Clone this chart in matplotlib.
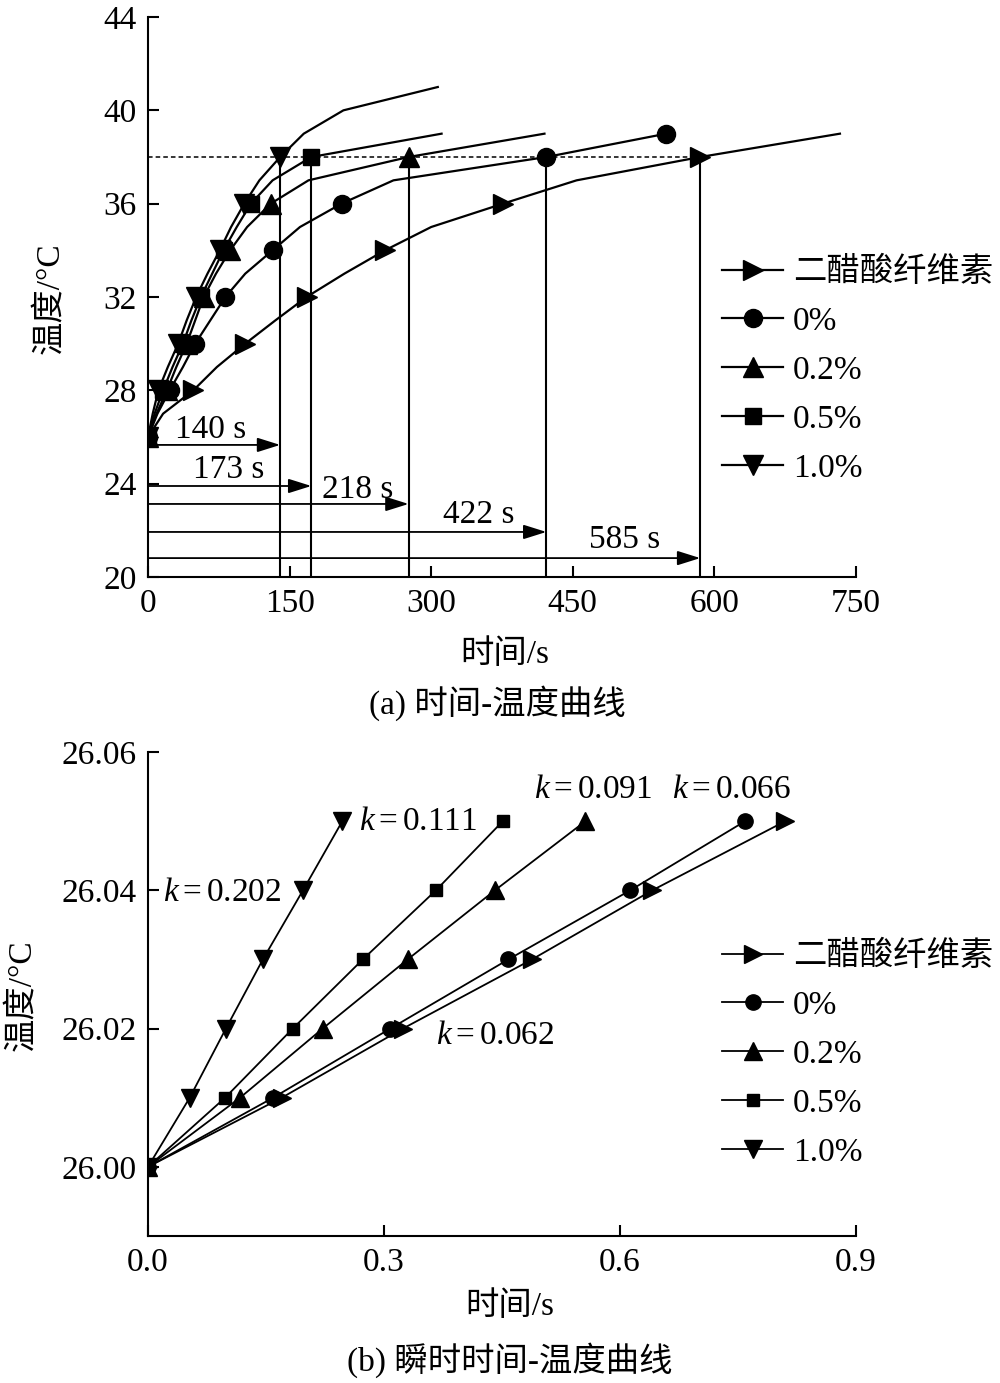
import matplotlib
matplotlib.use('Agg')
import matplotlib.pyplot as plt

plt.rcParams['font.family'] = ['Liberation Serif', 'Noto Sans CJK SC']
plt.rcParams['mathtext.fontset'] = 'custom'
plt.rcParams['mathtext.it'] = 'Liberation Serif:italic'
plt.rcParams['mathtext.rm'] = 'Liberation Serif'
plt.rcParams['font.size'] = 24

# ---- 数据 (a) 时间-温度曲线 ----
series_names = ['二醋酸纤维素', '0%', '0.2%', '0.5%', '1.0%']
markers = ['>', 'o', '^', 's', 'v']
msizes = [15, 13, 15, 11, 15]

temp_a = [26, 27, 28, 29, 30, 31, 32, 33, 34, 35, 36, 37, 38, 39, 40, 41]
time_diac = [0, 16, 48, 73, 103, 135, 168, 208, 251, 300, 376, 454, 585, 733]
time_0 = [0, 10, 23, 37, 50, 66, 82, 103, 132, 161, 205, 260, 422, 549]
time_02 = [0, 9, 20, 30, 41, 50, 59, 72, 87, 105, 130, 170, 276, 420]
time_05 = [0, 7, 16, 26, 37, 46, 56, 68, 80, 94, 109, 132, 173, 311]
time_10 = [0, 5, 11, 21, 32, 41, 51, 63, 76, 88, 102, 118, 140, 165, 207, 307]
times_a = [time_diac, time_0, time_02, time_05, time_10]

# 达到38℃的时间标注
arrow_labels = ['140 s', '173 s', '218 s', '422 s', '585 s']
arrow_src = [4, 3, 2, 1, 0]          # 对应的曲线
arrow_y = [25.66, 23.9, 23.13, 21.93, 20.81]
label_xy = [(66, 26.3), (85, 24.59), (222, 23.73), (350, 22.66), (505, 21.6)]

# ---- 数据 (b) 瞬时时间-温度曲线 ----
temp_b = [26.00, 26.01, 26.02, 26.03, 26.04, 26.05]
tb_diac = [0, 0.170, 0.324, 0.488, 0.641, 0.810]
tb_0 = [0, 0.159, 0.308, 0.458, 0.613, 0.759]
tb_02 = [0, 0.117, 0.222, 0.330, 0.441, 0.556]
tb_05 = [0, 0.098, 0.184, 0.273, 0.366, 0.451]
tb_10 = [0, 0.053, 0.099, 0.146, 0.197, 0.247]
times_b = [tb_diac, tb_0, tb_02, tb_05, tb_10]

k_labels = ['$k=$0.202', '$k=$0.111', '$k=$0.091', '$k=$0.066', '$k=$0.062']
k_xy = [(0.095, 26.0396), (0.343, 26.0499), (0.566, 26.0545), (0.742, 26.0545), (0.442, 26.019)]

fig = plt.figure(figsize=(10, 13.83), dpi=100)
ax1 = fig.add_axes([0.148, 0.5828, 0.708, 0.4049])
ax2 = fig.add_axes([0.148, 0.1063, 0.708, 0.3499])


def style_axes(ax):
    for s in ['top', 'right']:
        ax.spines[s].set_visible(False)
    for s in ['left', 'bottom']:
        ax.spines[s].set_linewidth(1.5)
    ax.tick_params(direction='in', length=8, width=1.5, labelsize=24, pad=8)


# (a)
for i, t in enumerate(times_a):
    n = len(t)
    me = list(range(0, min(n, 13), 2))
    if i == 1:
        me.append(n - 1)
    ax1.plot(t, temp_a[:n], color='black', lw=1.6, marker=markers[i],
             markersize=msizes[i], markevery=me, label=series_names[i])

ax1.hlines(38, 0, times_a[0][12], colors='black', linestyles=(0, (3, 2)), lw=1.1)
for j, src in enumerate(arrow_src):
    tx = times_a[src][12]
    ax1.vlines(tx, 20, 38, colors='black', lw=1.5)
    ax1.annotate('', xy=(tx, arrow_y[j]), xytext=(0, arrow_y[j]),
                 arrowprops=dict(arrowstyle='-|>,head_length=0.7,head_width=0.22',
                                 color='black', lw=1.3, mutation_scale=20,
                                 shrinkA=0, shrinkB=0))
    ax1.text(label_xy[j][0], label_xy[j][1], arrow_labels[j], ha='center', va='center')

ax1.set_xlim(0, 750)
ax1.set_ylim(20, 44)
ax1.set_xticks([0, 150, 300, 450, 600, 750])
ax1.set_yticks([20, 24, 28, 32, 36, 40, 44])
style_axes(ax1)
ax1.legend(loc='upper left', bbox_to_anchor=(0.722, 0.8141), bbox_transform=fig.transFigure,
           frameon=False, fontsize=24, handlelength=1.83, handletextpad=0.3,
           labelspacing=0.55, borderpad=0, borderaxespad=0)

# (b)
for i, t in enumerate(times_b):
    ax2.plot(t, temp_b, color='black', lw=1.3, marker=markers[i],
             markersize=msizes[i] - 2, label=series_names[i])
for j, lab in enumerate(k_labels):
    ax2.text(k_xy[j][0], k_xy[j][1], lab, ha='center', va='center')

ax2.set_xlim(0, 0.9)
ax2.set_ylim(25.99, 26.06)
ax2.set_xticks([0, 0.3, 0.6, 0.9])
ax2.set_xticklabels(['0.0', '0.3', '0.6', '0.9'])
ax2.set_yticks([26.00, 26.02, 26.04, 26.06])
ax2.set_yticklabels(['26.00', '26.02', '26.04', '26.06'])
style_axes(ax2)
ax2.legend(loc='upper left', bbox_to_anchor=(0.722, 0.3196), bbox_transform=fig.transFigure,
           frameon=False, fontsize=24, handlelength=1.83, handletextpad=0.3,
           labelspacing=0.55, borderpad=0, borderaxespad=0)

# 轴标题与图注
fig.text(0.505, 0.5264, '时间/s', ha='center', va='center')
fig.text(0.497, 0.4917, '(a) 时间-温度曲线', ha='center', va='center')
fig.text(0.05, 0.7845, '温度/°C', ha='center', va='center', rotation=90)
fig.text(0.51, 0.055, '时间/s', ha='center', va='center')
fig.text(0.51, 0.0166, '(b) 瞬时时间-温度曲线', ha='center', va='center')
fig.text(0.022, 0.2805, '温度/°C', ha='center', va='center', rotation=90)

fig.savefig('out.png', dpi=100)
